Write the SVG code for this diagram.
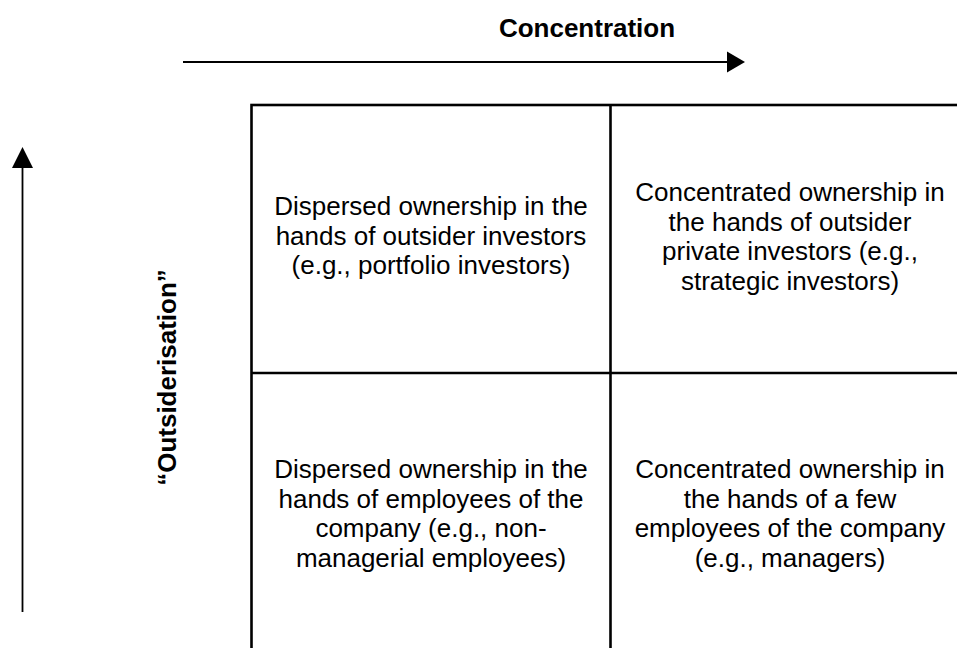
<svg xmlns="http://www.w3.org/2000/svg" width="957" height="648" viewBox="0 0 957 648">
  <style>
    .axis { stroke: #000; stroke-width: 1.8; fill: none; }
    .grid { stroke: #000; stroke-width: 2.6; fill: none; }
    .head { fill: #000; }
    .title { font-family: "Liberation Sans", Arial, sans-serif; font-size: 26px; font-weight: bold; fill: #000; }
    .cell { font-family: "Liberation Sans", Arial, sans-serif; font-size: 26px; fill: #000; text-anchor: middle; }
  </style>
  <rect width="957" height="648" fill="#fff"/>

  <!-- axes -->
  <g id="connectors">
    <line class="axis" x1="183" y1="62" x2="729" y2="62"/>
    <polygon class="head" points="727,51.5 745,62 727,72.5"/>
    <line class="axis" x1="22.5" y1="612" x2="22.5" y2="166"/>
    <polygon class="head" points="12,168 22.5,147 33,168"/>
  </g>

  <g id="axis-concentration">
    <text class="title" x="587" y="37" text-anchor="middle">Concentration</text>
  </g>
  <g id="axis-outsiderisation">
    <text class="title" text-anchor="middle" transform="translate(176,377.5) rotate(-90)">“Outsiderisation”</text>
  </g>

  <!-- 2x2 ownership matrix -->
  <g id="matrix">
    <rect class="grid" x="251.5" y="105" width="718" height="600"/>
    <line class="grid" x1="610.5" y1="105" x2="610.5" y2="660"/>
    <line class="grid" x1="251.5" y1="373" x2="970" y2="373"/>
  </g>

  <g id="cell-dispersed-outsiders">
    <text class="cell" x="431" y="215">Dispersed ownership in the</text>
    <text class="cell" x="431" y="244.5">hands of outsider investors</text>
    <text class="cell" x="431" y="274">(e.g., portfolio investors)</text>
  </g>
  <g id="cell-concentrated-outsiders">
    <text class="cell" x="790" y="201">Concentrated ownership in</text>
    <text class="cell" x="790" y="230.5">the hands of outsider</text>
    <text class="cell" x="790" y="260">private investors (e.g.,</text>
    <text class="cell" x="790" y="289.5">strategic investors)</text>
  </g>
  <g id="cell-dispersed-employees">
    <text class="cell" x="431" y="478">Dispersed ownership in the</text>
    <text class="cell" x="431" y="507.5">hands of employees of the</text>
    <text class="cell" x="431" y="537">company (e.g., non-</text>
    <text class="cell" x="431" y="566.5">managerial employees)</text>
  </g>
  <g id="cell-concentrated-employees">
    <text class="cell" x="790" y="478">Concentrated ownership in</text>
    <text class="cell" x="790" y="507.5">the hands of a few</text>
    <text class="cell" x="790" y="537">employees of the company</text>
    <text class="cell" x="790" y="566.5">(e.g., managers)</text>
  </g>
</svg>
